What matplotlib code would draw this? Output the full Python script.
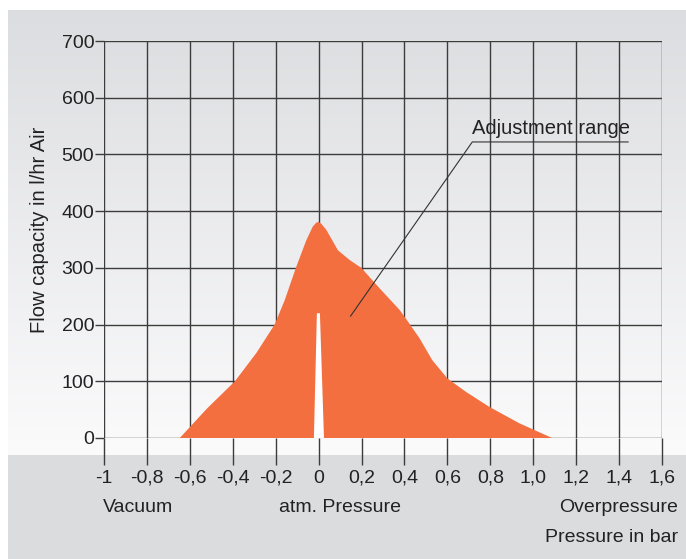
import numpy as np
import matplotlib.pyplot as plt

# outline of the adjustment range (pressure in bar, flow in l/hr)
area_x = [-0.647, -0.52, -0.39, -0.29, -0.205, -0.158, -0.104, -0.057, -0.027, -0.01, 0.0,
          0.012, 0.036, 0.09, 0.144, 0.199, 0.284, 0.377, 0.40, 0.47, 0.53, 0.60, 0.688, 0.795, 0.935, 1.088]
area_y = [0, 52, 100, 150, 200, 243, 302, 349, 373, 380, 381,
          378, 367, 331, 314, 300, 264, 226, 214, 176, 137, 105, 81, 55, 26, 0]

# white gap at atmospheric pressure
gap_x = [-0.022, -0.008, 0.006, 0.025]
gap_y = [0, 220, 220, 0]

x_ticks = [-1, -0.8, -0.6, -0.4, -0.2, 0, 0.2, 0.4, 0.6, 0.8, 1.0, 1.2, 1.4, 1.6]
x_labels = ['-1', '-0,8', '-0,6', '-0,4', '-0,2', '0', '0,2', '0,4', '0,6', '0,8', '1,0', '1,2', '1,4', '1,6']
y_ticks = [0, 100, 200, 300, 400, 500, 600, 700]

plt.rcParams['font.family'] = ['Liberation Sans', 'DejaVu Sans']
W, H = 686, 559
fig = plt.figure(figsize=(W / 100, H / 100), dpi=100)

# background: gradient panel + gray band at the bottom
bg = np.ones((H, W, 3))
rows = np.arange(H)
top = np.array([220, 221, 224]) / 255
bot = np.array([250, 250, 251]) / 255
t = np.clip((rows - 10) / (440 - 10), 0, 1)[:, None]
grad = top * (1 - t) + bot * t
bg[:, :, :] = grad[:, None, :]
bg[455:, :, :] = np.array([219, 220, 222]) / 255
bg[:10, :, :] = 1
bg[:, :8, :] = 1
bax = fig.add_axes([0, 0, 1, 1], zorder=-5)
bax.imshow(bg, aspect='auto', interpolation='nearest')
bax.axis('off')

ax = fig.add_axes([104 / W, (H - 438) / H, 558 / W, 397 / H])
ax.set_facecolor('none')
ax.set_xlim(-1, 1.6)
ax.set_ylim(0, 700)

gc = '#3c3c3c'
for v in x_ticks:
    ax.axvline(v, color=gc, lw=1.0, zorder=1)
for v in y_ticks:
    ax.axhline(v, color=gc, lw=1.0, zorder=1)
for s in ax.spines.values():
    s.set_visible(False)

ax.fill(area_x, area_y, color='#f36f40', lw=0, zorder=2)
ax.fill(gap_x, gap_y, color='white', lw=0, zorder=3)

fs = 14
ax.set_xticks(x_ticks)
ax.set_xticklabels(x_labels)
ax.set_yticks(y_ticks)
ax.tick_params(axis='x', length=19.5, width=1.0, color=gc, pad=3.5, labelsize=fs, labelcolor='#222222')
ax.tick_params(axis='y', length=6.5, width=1.0, color=gc, pad=0.5, labelsize=fs, labelcolor='#222222')

# annotation with underline and leader line
ax.plot([0.149, 0.716, 1.442], [215, 522, 522], color='#333333', lw=0.8, zorder=4)
ax.text(0.716, 529, 'Adjustment range', fontsize=14.5, color='#222222', ha='left', va='bottom', zorder=4)

fig.text(40 / W, 1 - 230 / H, 'Flow capacity in l/hr Air', rotation=90, fontsize=14.5,
         color='#222222', ha='center', va='center')
fig.text(103 / W, 1 - 508 / H, 'Vacuum', fontsize=fs, color='#222222', ha='left', va='center')
fig.text(340 / W, 1 - 508 / H, 'atm. Pressure', fontsize=fs, color='#222222', ha='center', va='center')
fig.text(678 / W, 1 - 508 / H, 'Overpressure', fontsize=fs, color='#222222', ha='right', va='center')
fig.text(678 / W, 1 - 538 / H, 'Pressure in bar', fontsize=fs, color='#222222', ha='right', va='center')

fig.savefig('out.png', dpi=100)
